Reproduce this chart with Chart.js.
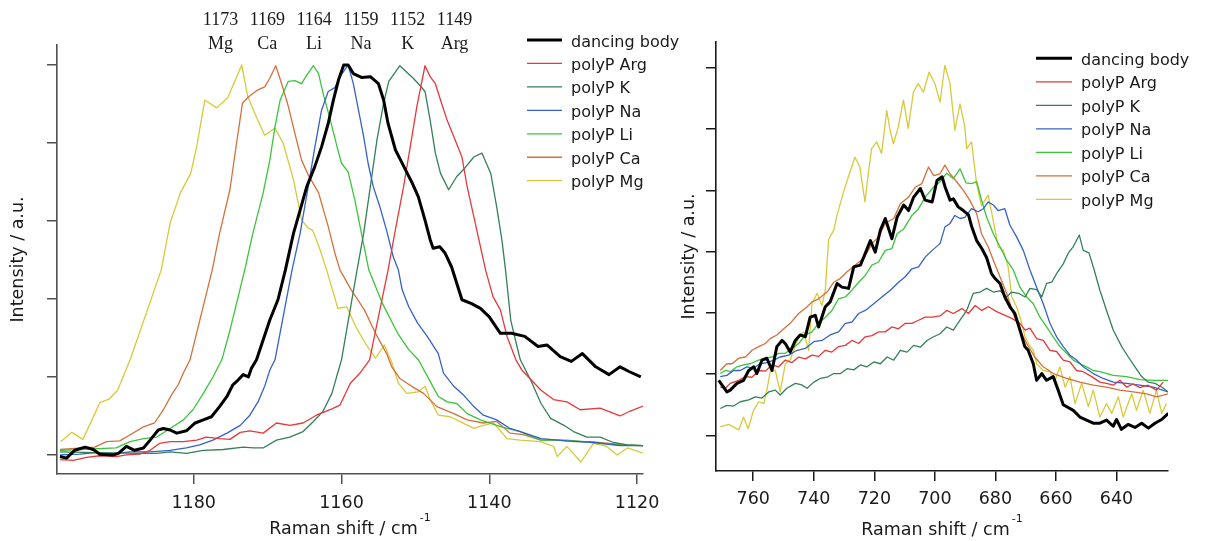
<!DOCTYPE html>
<html>
<head>
<meta charset="utf-8">
<script src="https://cdn.jsdelivr.net/npm/chart.js@4.4.1/dist/chart.umd.min.js"></script>
<style>
html,body{margin:0;padding:0;background:#fff;width:1210px;height:541px;overflow:hidden}
#cL{position:absolute;left:0;top:0}
#cR{position:absolute;left:660px;top:0}
</style>
</head>
<body>
<canvas id="cL" width="700" height="541"></canvas>
<canvas id="cR" width="550" height="541"></canvas>
<script>
// ---------- data ----------
const seriesLabels = ['dancing body','polyP Arg','polyP K','polyP Na','polyP Li','polyP Ca','polyP Mg'];
const peakShifts = ['1173','1169','1164','1159','1152','1149'];
const peakIons = ['Mg','Ca','Li','Na','K','Arg'];
const leftXTicks = [1180,1160,1140,1120];
const rightXTicks = [760,740,720,700,680,660,640];
const leftYTicks = [0,1,2,3,4,5];
const rightYTicks = [0,1,2,3,4,5,6];

// left panel (1198 - 1119 cm-1), [shift, intensity]
const leftDancing = [[1198.1,-0.02],[1197.2,-0.04],[1196.1,0.06],[1194.7,0.10],[1193.6,0.07],[1192.7,0.01],[1190.9,0.00],[1190.2,0.02],[1189.1,0.11],[1188.0,0.06],[1186.8,0.09],[1185.9,0.19],[1184.8,0.32],[1184.1,0.34],[1183.2,0.32],[1182.3,0.28],[1181.0,0.31],[1179.8,0.41],[1178.7,0.45],[1177.6,0.49],[1176.5,0.62],[1175.5,0.75],[1174.7,0.90],[1174.0,0.96],[1173.3,1.03],[1172.6,1.00],[1172.2,1.11],[1171.5,1.22],[1169.7,1.73],[1168.6,1.99],[1167.6,2.37],[1166.5,2.84],[1165.6,3.14],[1164.7,3.44],[1163.6,3.70],[1162.7,3.95],[1161.8,4.25],[1161.1,4.55],[1160.4,4.81],[1159.7,5.00],[1159.1,5.00],[1158.4,4.89],[1157.3,4.84],[1156.1,4.85],[1155.0,4.76],[1154.3,4.55],[1153.7,4.25],[1152.7,3.91],[1152.1,3.80],[1151.2,3.63],[1150.5,3.50],[1149.6,3.31],[1148.7,3.01],[1148.0,2.76],[1147.6,2.65],[1146.7,2.67],[1146.0,2.59],[1145.1,2.41],[1143.7,1.99],[1142.4,1.94],[1141.2,1.88],[1140.0,1.77],[1138.5,1.56],[1137.0,1.56],[1135.2,1.52],[1133.4,1.39],[1132.2,1.41],[1130.4,1.26],[1128.9,1.20],[1127.4,1.30],[1125.6,1.13],[1123.8,1.03],[1122.3,1.13],[1121.1,1.07],[1119.5,1.00]];
const leftArg = [[1198.1,-0.06],[1196.3,-0.07],[1194.5,-0.03],[1192.7,-0.01],[1190.5,-0.02],[1189.1,0.00],[1187.3,0.01],[1185.9,0.06],[1184.6,0.15],[1183.2,0.17],[1181.4,0.17],[1179.6,0.19],[1178.3,0.23],[1176.5,0.21],[1175.1,0.20],[1173.7,0.29],[1172.4,0.31],[1170.6,0.28],[1168.8,0.41],[1167.0,0.38],[1165.2,0.41],[1163.4,0.51],[1161.3,0.59],[1160.2,0.64],[1158.8,0.92],[1157.5,1.05],[1156.2,1.22],[1153.7,2.37],[1152.8,2.84],[1151.6,3.44],[1150.7,3.95],[1149.8,4.47],[1148.7,4.99],[1148.0,4.85],[1147.3,4.76],[1146.6,4.55],[1145.7,4.29],[1144.8,4.08],[1143.7,3.82],[1143.0,3.44],[1142.1,3.06],[1141.2,2.67],[1140.5,2.37],[1139.5,2.03],[1138.5,1.86],[1137.6,1.52],[1136.4,1.22],[1135.6,1.09],[1133.0,0.83],[1131.3,0.71],[1129.5,0.68],[1127.7,0.58],[1125.0,0.60],[1122.3,0.50],[1121.0,0.56],[1119.1,0.63]];
const leftK = [[1198.1,0.04],[1193.2,0.03],[1187.3,0.02],[1185.0,0.02],[1183.2,0.04],[1181.0,0.02],[1178.7,0.06],[1176.0,0.07],[1173.3,0.10],[1171.9,0.09],[1170.6,0.09],[1168.8,0.19],[1167.0,0.23],[1165.2,0.30],[1163.8,0.43],[1162.5,0.56],[1161.3,0.79],[1160.4,1.09],[1160.0,1.22],[1157.9,2.37],[1157.0,2.84],[1156.1,3.44],[1155.2,4.04],[1154.3,4.51],[1153.6,4.79],[1152.7,4.91],[1152.1,4.99],[1151.2,4.91],[1150.3,4.83],[1149.4,4.74],[1148.7,4.66],[1148.0,4.29],[1147.3,3.87],[1146.6,3.61],[1145.5,3.40],[1144.4,3.57],[1143.3,3.68],[1142.1,3.82],[1141.0,3.87],[1139.8,3.61],[1139.0,3.18],[1138.3,2.76],[1137.8,2.37],[1137.1,1.73],[1136.3,1.41],[1135.8,1.22],[1134.4,0.96],[1133.0,0.66],[1131.7,0.47],[1129.9,0.38],[1128.6,0.30],[1126.8,0.23],[1125.0,0.23],[1123.2,0.16],[1121.3,0.13],[1119.1,0.12]];
const leftNa = [[1198.1,0.00],[1195.4,0.01],[1193.2,0.03],[1190.5,0.02],[1188.6,0.04],[1185.9,0.04],[1183.2,0.06],[1181.0,0.09],[1179.2,0.13],[1177.4,0.19],[1175.5,0.28],[1173.7,0.38],[1172.4,0.51],[1171.3,0.68],[1170.4,0.88],[1169.7,1.09],[1169.0,1.22],[1166.7,2.37],[1165.6,2.84],[1164.5,3.44],[1163.6,3.95],[1162.7,4.42],[1161.8,4.66],[1160.9,4.71],[1160.2,4.85],[1159.1,5.00],[1158.4,4.76],[1157.7,4.42],[1157.0,4.08],[1156.4,3.74],[1155.7,3.44],[1154.8,3.18],[1153.9,2.88],[1153.0,2.54],[1152.3,2.37],[1151.8,2.12],[1150.9,1.90],[1149.7,1.69],[1148.4,1.52],[1146.9,1.30],[1146.2,1.05],[1144.8,0.88],[1143.5,0.77],[1142.1,0.62],[1140.8,0.51],[1139.0,0.45],[1137.2,0.34],[1135.8,0.30],[1133.0,0.21],[1129.5,0.18],[1125.9,0.16],[1122.3,0.12],[1119.1,0.12]];
const leftLi = [[1198.1,0.06],[1195.4,0.07],[1190.5,0.09],[1188.6,0.17],[1186.8,0.21],[1185.0,0.23],[1183.2,0.34],[1181.4,0.45],[1180.1,0.58],[1178.7,0.79],[1177.4,1.00],[1176.2,1.22],[1175.2,1.56],[1173.1,2.37],[1172.0,2.84],[1170.6,3.36],[1169.7,3.78],[1169.0,4.21],[1168.3,4.55],[1167.2,4.79],[1166.3,4.80],[1165.4,4.76],[1164.7,4.87],[1163.8,4.99],[1163.1,4.89],[1162.5,4.64],[1161.5,4.29],[1160.6,3.95],[1160.0,3.74],[1159.1,3.63],[1158.2,3.27],[1157.3,2.84],[1156.3,2.37],[1154.5,1.95],[1152.4,1.56],[1150.9,1.35],[1149.6,1.22],[1148.1,0.96],[1146.9,0.75],[1145.7,0.68],[1144.4,0.66],[1143.0,0.53],[1141.2,0.45],[1139.0,0.38],[1137.6,0.34],[1135.8,0.30],[1133.0,0.19],[1129.5,0.19],[1125.9,0.16],[1122.7,0.13],[1119.1,0.12]];
const leftCa = [[1198.1,0.07],[1193.4,0.10],[1191.8,0.17],[1190.0,0.18],[1188.6,0.26],[1186.8,0.36],[1185.3,0.41],[1184.1,0.58],[1183.0,0.77],[1182.1,0.90],[1181.4,1.05],[1180.5,1.22],[1177.5,2.37],[1176.5,2.84],[1175.1,3.40],[1174.2,4.00],[1173.4,4.51],[1172.6,4.59],[1171.5,4.67],[1170.4,4.72],[1169.7,4.83],[1168.9,4.99],[1168.1,4.76],[1167.2,4.47],[1166.3,4.12],[1165.4,3.78],[1164.5,3.59],[1163.1,3.36],[1161.8,2.93],[1160.9,2.59],[1160.2,2.37],[1158.7,2.12],[1156.9,1.86],[1155.4,1.56],[1153.9,1.30],[1153.2,1.13],[1152.1,0.98],[1150.5,0.88],[1148.9,0.79],[1147.1,0.62],[1144.8,0.53],[1143.0,0.45],[1140.8,0.41],[1139.0,0.43],[1137.2,0.28],[1135.4,0.26],[1133.0,0.19],[1130.8,0.19],[1128.6,0.17],[1126.3,0.17],[1124.1,0.15],[1121.8,0.13],[1119.1,0.12]];
const leftMg = [[1198.0,0.17],[1196.5,0.29],[1195.0,0.20],[1192.7,0.67],[1191.4,0.72],[1190.3,0.83],[1188.6,1.22],[1184.4,2.37],[1183.2,2.97],[1181.8,3.36],[1180.4,3.61],[1179.6,3.95],[1178.5,4.55],[1176.9,4.45],[1175.4,4.58],[1173.5,5.00],[1172.7,4.60],[1171.5,4.33],[1170.4,4.10],[1169.0,4.19],[1167.9,4.00],[1166.5,3.53],[1165.4,3.01],[1164.5,2.91],[1163.9,2.88],[1162.9,2.63],[1162.0,2.37],[1160.5,1.88],[1159.3,1.90],[1158.1,1.65],[1156.9,1.45],[1155.4,1.24],[1154.2,1.41],[1153.2,1.19],[1152.3,0.92],[1151.2,0.79],[1149.6,0.81],[1148.7,0.88],[1148.0,0.71],[1146.9,0.51],[1145.3,0.49],[1144.0,0.43],[1142.1,0.34],[1140.8,0.38],[1139.4,0.41],[1137.6,0.21],[1135.8,0.19],[1133.1,0.17],[1131.3,0.11],[1130.8,-0.02],[1129.5,0.11],[1127.6,-0.09],[1125.9,0.15],[1124.1,0.11],[1122.7,0.00],[1121.3,0.09],[1119.1,0.02]];

// right panel (772 - 623 cm-1), [shift, intensity]
const rightDancing = [[771.4,0.90],[768.7,0.71],[767.6,0.74],[765.4,0.85],[763.2,0.90],[761.5,1.06],[759.8,1.12],[758.8,1.01],[757.1,1.23],[755.5,1.26],[753.8,1.06],[752.2,1.45],[750.5,1.55],[749.4,1.50],[747.8,1.36],[746.1,1.55],[744.5,1.64],[742.8,1.61],[741.2,1.93],[739.5,1.96],[738.4,1.77],[736.2,2.10],[734.6,2.18],[732.3,2.48],[730.7,2.42],[728.5,2.40],[726.8,2.75],[724.6,2.78],[723.0,2.97],[721.3,3.18],[719.7,2.99],[718.0,3.35],[716.4,3.54],[714.2,3.21],[712.5,3.56],[710.3,3.76],[708.7,3.67],[707.0,3.89],[704.8,4.03],[703.2,3.84],[700.9,3.81],[699.3,4.16],[697.6,4.22],[696.6,4.05],[695.0,3.84],[693.9,3.86],[692.3,3.73],[690.6,3.67],[688.9,3.60],[687.8,3.40],[686.2,3.18],[684.5,3.05],[682.9,2.90],[681.3,2.64],[680.1,2.56],[678.5,2.48],[676.9,2.26],[675.2,2.10],[673.6,1.99],[671.9,1.72],[670.3,1.45],[669.2,1.39],[667.5,1.17],[666.4,0.90],[664.7,1.01],[663.1,0.90],[660.9,0.96],[659.3,0.74],[657.6,0.50],[654.3,0.41],[652.1,0.30],[649.9,0.25],[647.7,0.20],[645.5,0.20],[643.3,0.25],[641.1,0.15],[640.0,0.26],[638.4,0.10],[636.2,0.18],[633.9,0.13],[631.7,0.20],[629.5,0.12],[627.3,0.20],[625.1,0.26],[622.9,0.36]];
const rightArg = [[770.9,0.79],[769.2,0.77],[767.6,0.85],[764.8,0.90],[762.6,0.96],[760.4,0.95],[758.2,1.06],[756.0,1.05],[753.8,1.15],[751.6,1.12],[749.4,1.23],[747.2,1.19],[745.0,1.28],[742.8,1.25],[740.6,1.31],[738.4,1.29],[736.2,1.39],[734.0,1.36],[731.8,1.45],[729.6,1.47],[727.4,1.55],[725.2,1.50],[723.0,1.61],[720.8,1.63],[718.6,1.69],[716.4,1.69],[714.2,1.77],[712.0,1.74],[709.8,1.83],[707.6,1.83],[705.4,1.88],[703.2,1.93],[700.9,1.93],[698.3,1.95],[696.1,2.04],[693.9,1.99],[691.1,2.07],[688.9,1.99],[686.7,2.12],[684.5,2.04],[682.3,2.10],[679.6,2.02],[676.8,1.96],[674.6,1.91],[671.9,1.83],[670.2,1.72],[668.6,1.75],[666.4,1.58],[664.2,1.55],[662.0,1.39],[659.8,1.37],[657.6,1.23],[655.4,1.20],[653.2,1.06],[651.0,1.04],[648.2,0.96],[645.5,0.87],[643.3,0.85],[641.1,0.82],[638.9,0.90],[636.7,0.79],[634.5,0.84],[632.3,0.78],[629.6,0.82],[626.8,0.74],[624.6,0.87]];
const rightK = [[770.9,0.44],[768.7,0.49],[766.5,0.48],[764.3,0.55],[761.5,0.58],[759.3,0.63],[757.1,0.61],[754.9,0.71],[752.7,0.74],[751.1,0.66],[748.9,0.77],[746.1,0.85],[744.2,0.83],[742.2,0.77],[740.0,0.87],[737.9,0.93],[735.6,0.95],[733.4,1.01],[731.2,1.01],[729.0,1.09],[726.8,1.07],[724.6,1.15],[722.4,1.12],[720.2,1.20],[718.0,1.17],[715.8,1.28],[713.6,1.23],[711.4,1.39],[709.2,1.36],[707.0,1.47],[704.8,1.44],[702.6,1.55],[700.4,1.61],[698.3,1.66],[696.1,1.77],[693.9,1.72],[691.7,1.88],[689.5,2.04],[687.3,2.32],[685.1,2.34],[682.9,2.40],[680.7,2.34],[678.5,2.36],[676.3,2.26],[674.6,2.34],[672.4,2.32],[670.2,2.26],[668.6,2.40],[666.4,2.38],[664.7,2.26],[663.1,2.48],[661.4,2.50],[659.8,2.64],[657.6,2.80],[656.0,2.97],[654.3,3.08],[652.3,3.27],[651.0,3.02],[649.1,2.98],[647.5,2.72],[645.5,2.37],[643.3,2.04],[641.1,1.72],[638.3,1.45],[636.1,1.28],[633.9,1.12],[631.7,0.96],[629.5,0.87],[627.3,0.85],[625.1,0.79],[622.9,0.71]];
const rightNa = [[770.9,0.96],[768.7,0.98],[766.5,1.06],[764.3,1.06],[762.1,1.12],[759.9,1.10],[757.7,1.17],[755.5,1.19],[753.2,1.23],[751.1,1.28],[748.3,1.31],[745.5,1.39],[742.8,1.42],[740.0,1.53],[737.3,1.55],[734.6,1.64],[731.8,1.69],[729.6,1.83],[727.4,1.85],[725.2,1.99],[723.0,2.04],[720.2,2.15],[717.5,2.26],[714.7,2.37],[712.0,2.50],[709.8,2.59],[707.6,2.72],[705.4,2.75],[703.2,2.91],[700.9,3.02],[698.3,3.13],[696.7,3.40],[695.0,3.46],[693.4,3.59],[691.7,3.54],[690.1,3.56],[687.9,3.70],[685.7,3.65],[684.0,3.70],[682.4,3.81],[680.7,3.76],[679.1,3.67],[676.9,3.70],[675.2,3.43],[673.0,3.24],[670.8,3.02],[668.6,2.70],[666.4,2.42],[664.2,2.15],[662.0,1.83],[659.8,1.61],[657.6,1.45],[655.4,1.31],[653.2,1.23],[651.0,1.12],[647.7,1.01],[644.4,0.93],[641.1,0.87],[636.7,0.85],[632.3,0.82],[627.9,0.79],[622.9,0.71]];
const rightLi = [[770.9,1.01],[769.2,1.06],[767.6,1.04],[765.4,1.12],[763.2,1.15],[761.0,1.17],[758.2,1.23],[756.0,1.26],[753.8,1.28],[751.6,1.34],[749.4,1.34],[747.2,1.42],[745.0,1.50],[742.8,1.64],[740.6,1.69],[738.4,1.83],[736.2,1.93],[734.0,2.04],[731.8,2.23],[729.6,2.26],[727.4,2.37],[725.2,2.50],[723.0,2.61],[720.8,2.78],[718.6,2.83],[716.4,3.02],[714.2,3.05],[712.5,3.29],[710.3,3.37],[707.6,3.59],[705.4,3.70],[703.2,3.89],[700.5,4.05],[698.3,4.14],[696.1,4.28],[693.9,4.19],[691.7,4.35],[689.7,4.12],[687.9,4.11],[686.2,4.14],[684.6,3.84],[682.9,3.56],[680.7,3.29],[678.5,3.08],[676.3,2.86],[674.1,2.70],[671.9,2.42],[669.7,2.26],[667.5,2.15],[665.3,1.93],[663.1,1.77],[660.9,1.61],[658.7,1.45],[656.5,1.34],[654.3,1.23],[652.1,1.17],[649.9,1.12],[647.7,1.06],[645.5,1.04],[641.1,0.98],[636.7,0.96],[632.3,0.91],[627.9,0.90],[622.9,0.90]];
const rightCa = [[770.9,1.06],[768.7,1.17],[767.0,1.17],[764.8,1.26],[762.6,1.28],[760.4,1.39],[758.2,1.45],[756.0,1.50],[754.4,1.58],[752.2,1.64],[749.9,1.74],[747.8,1.83],[745.0,1.99],[742.2,2.10],[740.6,2.18],[738.4,2.23],[735.6,2.34],[733.4,2.50],[731.3,2.56],[729.0,2.67],[726.3,2.78],[723.5,2.89],[720.8,3.13],[718.6,3.24],[716.4,3.46],[713.6,3.54],[711.4,3.78],[708.7,3.89],[706.5,4.05],[704.3,4.11],[702.1,4.38],[700.4,4.24],[698.3,4.27],[696.7,4.41],[695.0,4.27],[692.8,4.14],[690.6,4.00],[688.5,3.84],[686.2,3.62],[684.6,3.29],[682.4,3.08],[680.7,2.86],[678.5,2.59],[676.3,2.32],[674.1,1.99],[671.9,1.72],[669.7,1.50],[667.0,1.28],[664.2,1.12],[660.9,1.01],[656.5,0.93],[652.1,0.87],[647.7,0.82],[643.3,0.79],[638.9,0.74],[634.5,0.71],[630.1,0.68],[626.8,0.63],[622.9,0.68]];
const rightMg = [[770.9,0.14],[768.1,0.18],[764.8,0.09],[763.2,0.30],[761.7,0.11],[759.9,0.41],[758.2,0.55],[756.5,0.52],[755.5,0.74],[754.4,1.04],[752.7,1.06],[751.1,0.71],[749.4,1.17],[747.8,1.23],[745.0,1.61],[743.3,1.69],[741.7,1.39],[740.6,2.15],[738.9,2.32],[737.3,2.12],[736.2,2.37],[735.1,3.20],[733.4,3.35],[732.3,3.60],[730.3,3.95],[728.6,4.22],[726.4,4.54],[724.8,4.38],[723.1,3.81],[722.0,4.27],[720.9,4.68],[719.2,4.79],[717.6,4.60],[715.9,5.30],[714.8,4.98],[713.7,4.76],[712.1,5.03],[710.4,5.47],[708.8,5.01],[707.1,5.60],[705.5,5.74],[703.8,5.60],[701.9,5.93],[700.0,5.74],[698.3,5.44],[696.7,6.04],[695.0,5.74],[693.4,4.98],[691.7,5.41],[690.1,5.03],[689.5,4.68],[687.9,4.79],[686.2,4.10],[684.6,3.75],[682.4,3.92],[680.7,3.50],[679.1,3.08],[677.4,3.02],[675.8,2.75],[674.6,2.26],[673.0,2.10],[671.3,1.83],[670.2,1.61],[669.1,1.50],[667.5,1.39],[666.4,1.17],[664.2,1.06],[662.0,1.04],[660.3,0.90],[658.7,1.12],[657.0,0.79],[655.4,0.96],[653.7,0.52],[651.5,0.85],[649.3,0.47],[647.7,0.74],[645.5,0.30],[643.3,0.52],[641.6,0.36],[639.4,0.63],[637.8,0.30],[635.0,0.68],[633.4,0.41],[631.2,0.74],[629.0,0.36],[626.8,0.74],[625.1,0.36],[623.5,0.52]];

// ---------- styles ----------
const seriesColors = ['#000000','#e5393b','#34805a','#3462c8','#3cc43c','#d2713e','#d6ca3a'];
const seriesWidths = [3, 1.3, 1.3, 1.3, 1.3, 1.3, 1.3];
const SANS = '"DejaVu Sans", "Noto Sans", sans-serif';
const SERIF = '"Liberation Serif", "DejaVu Serif", serif';

function buildDatasets(list) {
  return list.map((pts, i) => ({
    label: seriesLabels[i],
    data: pts.map(p => ({x: p[0], y: p[1]})),
    borderColor: seriesColors[i],
    borderWidth: seriesWidths[i],
    pointRadius: 0,
    tension: 0,
    fill: false,
    borderJoinStyle: 'round'
  }));
}

function decorPlugin(cfg) {
  return {
    id: 'decor_' + cfg.name,
    afterDraw(chart) {
      const ctx = chart.ctx;
      const a = chart.chartArea;
      ctx.save();
      ctx.fillStyle = '#1a1a1a';
      // x title with superscript
      const main = 'Raman shift / cm', sup = '-1';
      ctx.font = '17.5px ' + SANS;
      const w1 = ctx.measureText(main).width;
      ctx.font = '11px ' + SANS;
      const w2 = ctx.measureText(sup).width;
      const total = w1 + 2 + w2;
      const sx = (a.left + a.right) / 2 - total / 2;
      ctx.textAlign = 'left';
      ctx.textBaseline = 'alphabetic';
      ctx.font = '17.5px ' + SANS;
      ctx.fillText(main, sx, cfg.titleBase);
      ctx.font = '11px ' + SANS;
      ctx.fillText(sup, sx + w1 + 2, cfg.titleBase - 13);
      // y title
      ctx.save();
      ctx.translate(cfg.yTitleX, (a.top + a.bottom) / 2);
      ctx.rotate(-Math.PI / 2);
      ctx.textAlign = 'center';
      ctx.textBaseline = 'middle';
      ctx.font = '17.5px ' + SANS;
      ctx.fillText('Intensity / a.u.', 0, 0);
      ctx.restore();
      // legend
      const ds = chart.data.datasets;
      ds.forEach((d, i) => {
        const y = cfg.legY + i * cfg.legStep;
        ctx.beginPath();
        ctx.strokeStyle = d.borderColor;
        ctx.lineWidth = d.borderWidth;
        ctx.moveTo(cfg.legX1, y);
        ctx.lineTo(cfg.legX2, y);
        ctx.stroke();
        ctx.fillStyle = '#1a1a1a';
        ctx.font = '16px ' + SANS;
        ctx.textAlign = 'left';
        ctx.textBaseline = 'alphabetic';
        ctx.fillText(d.label, cfg.legTextX, y + 6.5);
      });
      // peak annotations
      if (cfg.peaks) {
        ctx.font = '18px ' + SERIF;
        ctx.textAlign = 'center';
        ctx.textBaseline = 'alphabetic';
        ctx.fillStyle = '#1a1a1a';
        peakShifts.forEach((t, i) => {
          const x = cfg.peakX0 + i * cfg.peakStep;
          ctx.fillText(t, x, 25);
          ctx.fillText(peakIons[i], x, 49);
        });
      }
      ctx.restore();
    }
  };
}

function makeChart(id, datasets, cfg) {
  const axisGrid = {drawOnChartArea: false, drawTicks: true, tickLength: 10, color: cfg.axisColor, lineWidth: 1.5};
  const axisBorder = {display: true, color: cfg.axisColor, width: 1.6};
  return new Chart(document.getElementById(id), {
    type: 'line',
    data: {datasets: datasets},
    options: {
      responsive: false,
      animation: false,
      events: [],
      layout: {padding: {left: 0, top: cfg.padTop, right: cfg.padRight, bottom: 0}},
      plugins: {legend: {display: false}, tooltip: {enabled: false}},
      scales: {
        x: {
          type: 'linear', reverse: true, min: cfg.xmin, max: cfg.xmax,
          afterBuildTicks: s => { s.ticks = cfg.xticks.map(v => ({value: v})); },
          afterFit: s => { s.height = cfg.xHeight; },
          ticks: {font: {family: SANS, size: 17.5}, color: '#1a1a1a', padding: cfg.tickPad, maxRotation: 0, autoSkip: false, callback: v => String(v)},
          grid: axisGrid, border: axisBorder
        },
        y: {
          type: 'linear', min: cfg.ymin, max: cfg.ymax,
          afterBuildTicks: s => { s.ticks = cfg.yticks.map(v => ({value: v})); },
          afterFit: s => { s.width = cfg.yWidth; },
          ticks: {display: false},
          grid: axisGrid, border: axisBorder
        }
      }
    },
    plugins: [decorPlugin(cfg)]
  });
}

makeChart('cL', buildDatasets([leftDancing, leftArg, leftK, leftNa, leftLi, leftCa, leftMg]), {
  name: 'L', padTop: 45, padRight: 57, xHeight: 67, yWidth: 57,
  xmin: 1119.2, xmax: 1198.5, ymin: -0.244, ymax: 5.256,
  xticks: leftXTicks, yticks: leftYTicks, axisColor: '#505050', tickPad: 9,
  titleBase: 534, yTitleX: 18,
  legX1: 527, legX2: 562, legTextX: 571, legY: 40, legStep: 23.45,
  peaks: true, peakX0: 220.5, peakStep: 46.8
});

makeChart('cR', buildDatasets([rightDancing, rightArg, rightK, rightNa, rightLi, rightCa, rightMg]), {
  name: 'R', padTop: 42, padRight: 42, xHeight: 70, yWidth: 56,
  xmin: 623.0, xmax: 772.3, ymin: -0.58, ymax: 6.42,
  xticks: rightXTicks, yticks: rightYTicks, axisColor: '#1a1a1a', tickPad: 8,
  titleBase: 535, yTitleX: 29,
  legX1: 376, legX2: 412, legTextX: 421, legY: 58.3, legStep: 23.5,
  peaks: false
});
</script>
</body>
</html>
